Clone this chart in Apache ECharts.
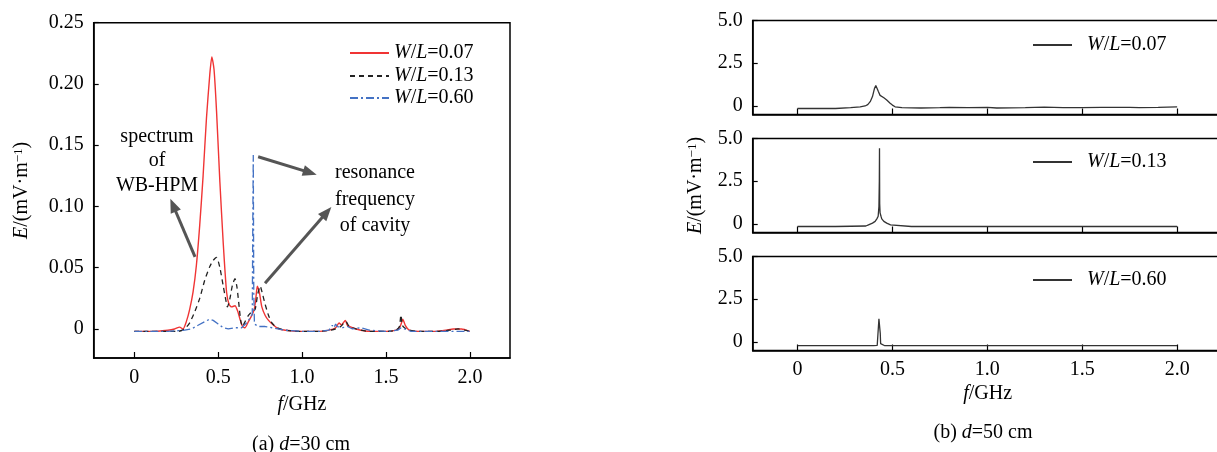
<!DOCTYPE html>
<html>
<head>
<meta charset="utf-8">
<title>E field spectra</title>
<script src="https://cdn.jsdelivr.net/npm/echarts@6/dist/echarts.min.js"></script>
<style>
  html, body { margin: 0; padding: 0; background: #fff; }
  #chart { width: 1217px; height: 452px; }
</style>
</head>
<body>
<div id="chart"></div>
<script>
// (a) d=30 cm
var fRedA = [0, 0.1, 0.2, 0.24, 0.27, 0.29, 0.31, 0.33, 0.35, 0.37, 0.39, 0.41, 0.43, 0.45, 0.462, 0.475, 0.49, 0.51, 0.53, 0.55, 0.565, 0.58, 0.6, 0.615, 0.63, 0.645, 0.66, 0.68, 0.7, 0.715, 0.725, 0.733, 0.745, 0.76, 0.78, 0.8, 0.83, 0.86, 0.9, 1.0, 1.1, 1.16, 1.2, 1.22, 1.235, 1.245, 1.258, 1.27, 1.3, 1.35, 1.42, 1.5, 1.56, 1.58, 1.59, 1.6, 1.615, 1.64, 1.7, 1.8, 1.86, 1.9, 1.95, 2.0]
var eRedA = [-0.002, -0.002, -0.001, 0.0, 0.0015, 0.0, 0.006, 0.016, 0.03, 0.052, 0.085, 0.125, 0.172, 0.208, 0.222, 0.212, 0.178, 0.12, 0.07, 0.03, 0.02, 0.018, 0.019, 0.015, 0.008, 0.002, 0.001, 0.006, 0.011, 0.016, 0.026, 0.035, 0.03, 0.018, 0.011, 0.007, 0.003, 0.0, -0.001, -0.002, -0.002, -0.001, 0.001, 0.005, 0.003, 0.005, 0.007, 0.003, 0.001, -0.001, -0.002, -0.002, -0.001, 0.001, 0.004, 0.008, 0.003, -0.001, -0.002, -0.002, -0.001, 0.0, 0.0, -0.002]

var fBlackA = [0, 0.1, 0.2, 0.26, 0.3, 0.33, 0.36, 0.39, 0.42, 0.45, 0.47, 0.49, 0.51, 0.53, 0.545, 0.555, 0.57, 0.585, 0.6, 0.612, 0.625, 0.635, 0.645, 0.66, 0.68, 0.7, 0.72, 0.735, 0.75, 0.765, 0.78, 0.8, 0.82, 0.85, 0.9, 1.0, 1.1, 1.17, 1.2, 1.23, 1.25, 1.262, 1.28, 1.32, 1.4, 1.5, 1.56, 1.58, 1.589, 1.597, 1.61, 1.64, 1.7, 1.8, 1.88, 1.93, 1.97, 2.0]
var eBlackA = [-0.002, -0.002, -0.002, -0.002, 0.0, 0.005, 0.014, 0.025, 0.04, 0.051, 0.056, 0.0585, 0.05, 0.035, 0.024, 0.018, 0.025, 0.036, 0.041, 0.034, 0.018, 0.006, 0.002, 0.006, 0.011, 0.014, 0.016, 0.028, 0.035, 0.028, 0.02, 0.011, 0.005, 0.001, -0.001, -0.002, -0.002, -0.001, 0.0, 0.002, 0.005, 0.006, 0.002, 0.0, -0.002, -0.002, -0.001, 0.002, 0.0115, 0.003, 0.001, -0.001, -0.002, -0.002, -0.001, 0.0, -0.001, -0.002]

var fBlueA = [0, 0.1, 0.2, 0.3, 0.34, 0.38, 0.42, 0.45, 0.47, 0.5, 0.53, 0.56, 0.6, 0.64, 0.67, 0.69, 0.703, 0.706, 0.709, 0.712, 0.716, 0.72, 0.74, 0.78, 0.82, 0.9, 1.0, 1.1, 1.16, 1.18, 1.19, 1.2, 1.21, 1.22, 1.24, 1.27, 1.3, 1.35, 1.4, 1.5, 1.57, 1.59, 1.61, 1.65, 1.75, 1.85, 1.92, 2.0]
var eBlueA = [-0.002, -0.002, -0.002, -0.001, 0.0, 0.003, 0.006, 0.008, 0.007, 0.004, 0.001, 0.0, 0.001, 0.001, 0.005, 0.009, 0.012, 0.085, 0.142, 0.03, 0.004, 0.003, 0.002, 0.002, 0.001, -0.001, -0.002, -0.002, -0.001, 0.003, 0.001, 0.004, 0.002, 0.003, 0.001, 0.002, 0.0, 0.001, -0.001, -0.002, -0.001, 0.001, 0.0, -0.002, -0.002, -0.002, -0.002, -0.002]

// (b) d=50 cm
var fB07 = [0, 0.1, 0.2, 0.28, 0.33, 0.356, 0.37, 0.383, 0.395, 0.405, 0.4125, 0.42, 0.426, 0.435, 0.444, 0.455, 0.47, 0.488, 0.5, 0.514, 0.55, 0.65, 0.75, 0.8, 0.9, 1.0, 1.05, 1.2, 1.3, 1.4, 1.5, 1.6, 1.75, 1.8, 1.9, 2.0]
var eB07 = [-0.15, -0.15, -0.15, -0.1, -0.05, 0.0, 0.08, 0.25, 0.55, 1.0, 1.19, 1.0, 0.84, 0.62, 0.55, 0.48, 0.35, 0.16, 0.05, -0.05, -0.1, -0.12, -0.1, -0.08, -0.1, -0.08, -0.12, -0.1, -0.07, -0.1, -0.1, -0.08, -0.08, -0.1, -0.08, -0.05]

var fB13 = [0, 0.2, 0.36, 0.374, 0.395, 0.409, 0.418, 0.425, 0.429, 0.431, 0.432, 0.433, 0.435, 0.44, 0.444, 0.455, 0.47, 0.49, 0.5, 0.6, 1.0, 1.5, 2.0]
var eB13 = [-0.15, -0.15, -0.12, -0.05, 0.05, 0.15, 0.3, 0.45, 1.03, 2.5, 4.43, 1.2, 0.65, 0.45, 0.3, 0.15, 0.05, -0.05, -0.12, -0.15, -0.15, -0.15, -0.15]

var fB60 = [0, 0.2, 0.4, 0.42, 0.426, 0.429, 0.431, 0.433, 0.436, 0.438, 0.442, 0.46, 0.6, 1.0, 1.5, 2.0]
var eB60 = [-0.22, -0.22, -0.22, -0.2, -0.1, 1.36, 1.1, 0.85, 0.5, -0.1, -0.2, -0.22, -0.22, -0.22, -0.22, -0.22]

// tick labels
var xTicks = [0, 0.5, 1.0, 1.5, 2.0]
var yTicksA = [0, 0.05, 0.10, 0.15, 0.20, 0.25]
var yTicksB = [0, 2.5, 5.0]

var legendText = {
  a07: '{i|W}/{i|L}=0.07', a13: '{i|W}/{i|L}=0.13', a60: '{i|W}/{i|L}=0.60',
  b07: '{i|W}/{i|L}=0.07', b13: '{i|W}/{i|L}=0.13', b60: '{i|W}/{i|L}=0.60'
}

var FONT = 'Liberation Serif'
var rich = {
  i: { fontFamily: FONT, fontSize: 20, fontStyle: 'italic', color: '#000', lineHeight: 20 },
  s: { fontFamily: FONT, fontSize: 13, color: '#000', verticalAlign: 'top', lineHeight: 20 }
}
var txt = { fontFamily: FONT, fontSize: 20, color: '#000', lineHeight: 20, rich: rich }

function pairs(f, e) {
  return f.map(function (x, i) { return [x, e[i]] })
}
function fmtX(v) { return v === 0 ? '0' : v.toFixed(1) }

var myChart = echarts.init(document.getElementById('chart'))

var grids = [
  { left: 93.7, top: 22.7, width: 416.3, height: 335.3 },
  { left: 752.7, top: 20.5, width: 470, height: 94 },
  { left: 752.7, top: 138.5, width: 470, height: 94 },
  { left: 752.7, top: 256.5, width: 470, height: 94 }
].map(function (g) {
  g.show = true
  g.borderColor = '#000'
  g.borderWidth = 1.5
  g.outerBoundsMode = 'none'
  return g
})

var axisLine = { show: true, onZero: false, lineStyle: { color: '#000', width: 1.5 } }

var xAxes = [0, 1, 2, 3].map(function (k) {
  var ax = {
    type: 'value', gridIndex: k,
    min: k === 0 ? -0.242 : -0.236, max: k === 0 ? 2.239 : 2.24,
    axisLine: axisLine,
    axisTick: { show: true, inside: true, length: 6, customValues: xTicks, lineStyle: { color: '#000', width: 1.2 } },
    axisLabel: { show: k === 0 || k === 3, customValues: xTicks, formatter: fmtX, margin: k === 0 ? 10 : 9,
      fontFamily: FONT, fontSize: 20, color: '#000' },
    splitLine: { show: false }
  }
  if (k === 0 || k === 3) {
    ax.name = '{i|f}/GHz'
    ax.nameLocation = 'middle'
    ax.nameGap = k === 0 ? 37 : 33
    ax.nameTextStyle = txt
  }
  return ax
})

var yAxes = [0, 1, 2, 3].map(function (k) {
  var ticks = k === 0 ? yTicksA : yTicksB
  var ax = {
    type: 'value', gridIndex: k,
    min: k === 0 ? -0.0237 : -0.5, max: k === 0 ? 0.25 : 5,
    axisLine: axisLine,
    axisTick: { show: true, inside: true, length: 5, customValues: ticks, lineStyle: { color: '#000', width: 1.2 } },
    axisLabel: { customValues: ticks, margin: 10, fontFamily: FONT, fontSize: 20, color: '#000',
      formatter: function (v) { return v === 0 ? '0' : v.toFixed(k === 0 ? 2 : 1) } },
    splitLine: { show: false }
  }
  if (k === 0 || k === 2) {
    ax.name = '{i|E}/(mV·m{s|−1})'
    ax.nameLocation = 'middle'
    ax.nameGap = k === 0 ? 62 : 47
    ax.nameTextStyle = txt
  }
  return ax
})

var arrowLine = {
  silent: true,
  symbol: ['none', 'triangle'],
  symbolSize: [11, 14],
  label: { show: false },
  emphasis: { disabled: true },
  lineStyle: { color: '#555', width: 3, type: 'solid' },
  data: [
    [{ coord: [0.362, 0.0588] }, { coord: [0.231, 0.101] }],
    [{ coord: [0.738, 0.1406] }, { coord: [1.047, 0.1276] }],
    [{ coord: [0.779, 0.0373] }, { coord: [1.147, 0.0952] }]
  ]
}

function lineSeries(name, k, data, color, width, dash, smooth) {
  return {
    name: name, type: 'line', xAxisIndex: k, yAxisIndex: k,
    data: data, symbol: 'none', showSymbol: false, smooth: smooth,
    lineStyle: { color: color, width: width, type: dash },
    itemStyle: { color: color },
    emphasis: { disabled: true }
  }
}

var series = [
  lineSeries('a07', 0, pairs(fRedA, eRedA), '#f03434', 1.4, 'solid', 0.2),
  lineSeries('a13', 0, pairs(fBlackA, eBlackA), '#222', 1.3, [5, 4], 0.2),
  lineSeries('a60', 0, pairs(fBlueA, eBlueA), '#4472c4', 1.3, [8, 3, 2, 3], false),
  lineSeries('b07', 1, pairs(fB07, eB07), '#333', 1.3, 'solid', false),
  lineSeries('b13', 2, pairs(fB13, eB13), '#333', 1.3, 'solid', false),
  lineSeries('b60', 3, pairs(fB60, eB60), '#333', 1.3, 'solid', false)
]
series[0].markLine = arrowLine

function oneLegend(name, left, top, pad) {
  return {
    data: [name], left: left, top: top, padding: 0, orient: 'vertical',
    itemWidth: 39, itemHeight: 10, selectedMode: false,
    itemStyle: { opacity: 0 },
    formatter: function (n) { return legendText[n] },
    textStyle: { fontFamily: FONT, fontSize: 20, color: '#000', lineHeight: 20, padding: [0, 0, 0, pad], rich: rich }
  }
}

var option = {
  animation: false,
  backgroundColor: '#fff',
  grid: grids,
  xAxis: xAxes,
  yAxis: yAxes,
  legend: [
    oneLegend('a07', 349, 43, 0),
    oneLegend('a13', 349, 66, 0),
    oneLegend('a60', 349, 88, 0),
    oneLegend('b07', 1032, 35, 10),
    oneLegend('b13', 1032, 152, 10),
    oneLegend('b60', 1032, 270, 10)
  ],
  graphic: [
    { type: 'text', x: 157, y: 161, silent: true,
      style: { text: 'spectrum\nof\nWB-HPM', fontFamily: FONT, fontSize: 20, lineHeight: 24.7, fill: '#000', align: 'center', verticalAlign: 'middle' } },
    { type: 'text', x: 375, y: 199.5, silent: true,
      style: { text: 'resonance\nfrequency\nof cavity', fontFamily: FONT, fontSize: 20, lineHeight: 26.5, fill: '#000', align: 'center', verticalAlign: 'middle' } },
    { type: 'text', x: 301, y: 445, silent: true,
      style: { text: '(a) {i|d}=30 cm', fontFamily: FONT, fontSize: 20, fill: '#000', align: 'center', verticalAlign: 'middle', rich: rich } },
    { type: 'text', x: 983, y: 433, silent: true,
      style: { text: '(b) {i|d}=50 cm', fontFamily: FONT, fontSize: 20, fill: '#000', align: 'center', verticalAlign: 'middle', rich: rich } }
  ],
  series: series
}

myChart.setOption(option)
</script>
</body>
</html>
